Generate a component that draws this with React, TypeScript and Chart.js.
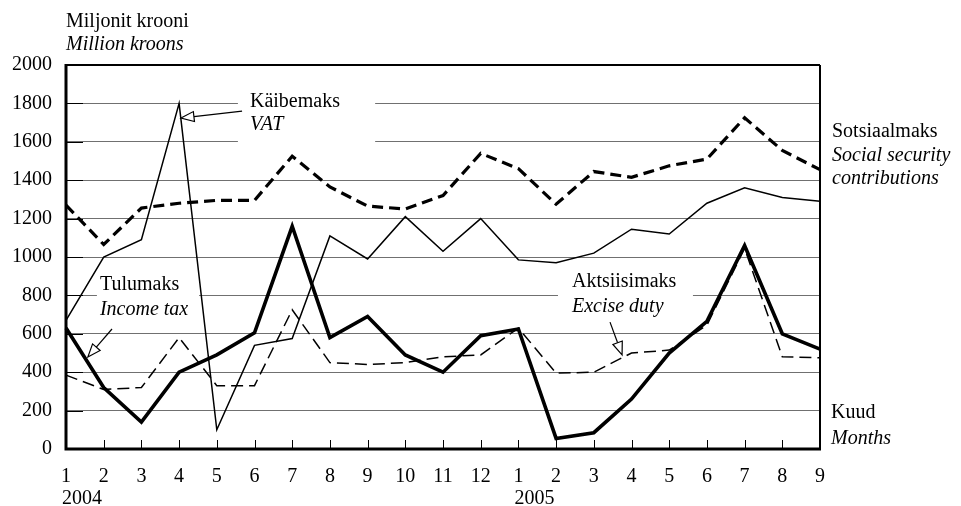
import React, { useEffect, useRef } from "react";
import { Chart, registerables } from "chart.js";

Chart.register(...registerables);

// ---- Data ----
const monthLabels = ["1","2","3","4","5","6","7","8","9","10","11","12","1","2","3","4","5","6","7","8","9"];
const yearLabels = ["2004", "2005"];
const yearIndexes = [0, 12];

const vat = [670, 1000, 1090, 1800, 100, 540, 575, 1110, 990, 1210, 1030, 1200, 985, 970, 1020, 1145, 1120, 1280, 1360, 1310, 1290];
const social = [1270, 1065, 1255, 1280, 1295, 1295, 1525, 1365, 1265, 1250, 1320, 1540, 1460, 1275, 1445, 1415, 1475, 1510, 1725, 1555, 1455];
const income = [630, 320, 140, 400, 490, 605, 1160, 580, 690, 490, 400, 590, 625, 55, 85, 260, 500, 665, 1060, 600, 520];
const excise = [385, 310, 320, 580, 330, 330, 725, 450, 440, 450, 480, 490, 630, 395, 400, 500, 515, 645, 1045, 480, 475];

const yMin = 0;
const yMax = 2000;
const yStep = 200;

const FONT = '"Liberation Serif", "Times New Roman", serif';

// annotation labels: [index, value] anchors in data space
const vatLabel = { et: "Käibemaks", en: "VAT", i: 4.88, v1: 1807, v2: 1688, box: [4.56, 8.2, 1859, 1578], tail: [4.67, 1760], tip: [3.05, 1724] };
const incomeLabel = { et: "Tulumaks", en: "Income tax", i: 0.9, v1: 854, v2: 724, box: [0.82, 3.53, 922, 682], tail: [1.22, 625], tip: [0.58, 479] };
const exciseLabel = { et: "Aktsiisimaks", en: "Excise duty", i: 13.42, v1: 870, v2: 740, box: [13.05, 16.63, 922, 682], tail: [14.43, 661], tip: [14.75, 490] };

function drawArrow(ctx: CanvasRenderingContext2D, x1: number, y1: number, x2: number, y2: number) {
  const dx = x2 - x1, dy = y2 - y1;
  const len = Math.sqrt(dx * dx + dy * dy);
  const ux = dx / len, uy = dy / len;
  const hl = 13, hw = 5;
  const bx = x2 - ux * hl, by = y2 - uy * hl;
  ctx.save();
  ctx.strokeStyle = "#000";
  ctx.lineWidth = 1.2;
  ctx.setLineDash([]);
  ctx.beginPath();
  ctx.moveTo(x1, y1);
  ctx.lineTo(bx, by);
  ctx.stroke();
  ctx.beginPath();
  ctx.moveTo(x2, y2);
  ctx.lineTo(bx - uy * hw, by + ux * hw);
  ctx.lineTo(bx + uy * hw, by - ux * hw);
  ctx.closePath();
  ctx.fillStyle = "#fff";
  ctx.fill();
  ctx.stroke();
  ctx.restore();
}

const decorPlugin = {
  id: "decor",
  beforeDatasetsDraw(chart: any) {
    const { ctx, chartArea, scales } = chart;
    const xs = scales.x, ys = scales.y;
    ctx.save();
    // white boxes breaking grid lines behind labels
    ctx.fillStyle = "#fff";
    [vatLabel, incomeLabel, exciseLabel].forEach((l) => {
      const x1 = xs.getPixelForValue(l.box[0]);
      const x2 = xs.getPixelForValue(l.box[1]);
      const y1 = ys.getPixelForValue(l.box[2]);
      const y2 = ys.getPixelForValue(l.box[3]);
      ctx.fillRect(x1, y1, x2 - x1, y2 - y1);
    });
    // inward ticks
    ctx.strokeStyle = "#000";
    ctx.lineWidth = 1;
    for (let v = yMin + yStep; v < yMax; v += yStep) {
      const y = Math.round(ys.getPixelForValue(v)) + 0.5;
      ctx.beginPath();
      ctx.moveTo(chartArea.left, y);
      ctx.lineTo(chartArea.left + 17, y);
      ctx.stroke();
    }
    for (let i = 1; i < monthLabels.length - 1; i++) {
      const x = Math.round(xs.getPixelForValue(i)) + 0.5;
      ctx.beginPath();
      ctx.moveTo(x, chartArea.bottom);
      ctx.lineTo(x, chartArea.bottom - 9);
      ctx.stroke();
    }
    // label texts
    ctx.fillStyle = "#000";
    ctx.textAlign = "left";
    ctx.textBaseline = "middle";
    [vatLabel, incomeLabel, exciseLabel].forEach((l) => {
      const x = xs.getPixelForValue(l.i);
      ctx.font = `20px ${FONT}`;
      ctx.fillText(l.et, x, ys.getPixelForValue(l.v1));
      ctx.font = `italic 20px ${FONT}`;
      ctx.fillText(l.en, x, ys.getPixelForValue(l.v2));
    });
    ctx.restore();
  },
  afterDatasetsDraw(chart: any) {
    const { ctx, chartArea, scales } = chart;
    const xs = scales.x, ys = scales.y;
    [vatLabel, incomeLabel, exciseLabel].forEach((l) => {
      drawArrow(
        ctx,
        xs.getPixelForValue(l.tail[0]), ys.getPixelForValue(l.tail[1]),
        xs.getPixelForValue(l.tip[0]), ys.getPixelForValue(l.tip[1])
      );
    });
    ctx.save();
    ctx.strokeStyle = "#000";
    ctx.setLineDash([]);
    const { left, right, top, bottom } = chartArea;
    ctx.lineWidth = 2;
    ctx.beginPath();
    ctx.moveTo(left, top);
    ctx.lineTo(right, top);
    ctx.moveTo(right, top);
    ctx.lineTo(right, bottom);
    ctx.stroke();
    ctx.lineWidth = 3;
    ctx.beginPath();
    ctx.moveTo(left, top - 1);
    ctx.lineTo(left, bottom + 1.5);
    ctx.moveTo(left - 1.5, bottom);
    ctx.lineTo(right + 1, bottom);
    ctx.stroke();
    ctx.restore();
  },
  afterDraw(chart: any) {
    const { ctx, chartArea, scales } = chart;
    const xs = scales.x;
    ctx.save();
    ctx.fillStyle = "#000";
    ctx.textAlign = "left";
    ctx.textBaseline = "middle";
    // year labels
    ctx.font = `20px ${FONT}`;
    yearIndexes.forEach((idx, k) => {
      ctx.fillText(yearLabels[k], xs.getPixelForValue(idx) - 4, chartArea.bottom + 50);
    });
    // axis titles
    ctx.fillText("Miljonit krooni", chartArea.left, 22);
    ctx.font = `italic 20px ${FONT}`;
    ctx.fillText("Million kroons", chartArea.left, 45);
    const rx = chartArea.right + 12;
    ctx.font = `20px ${FONT}`;
    ctx.fillText("Sotsiaalmaks", rx, 132);
    ctx.font = `italic 20px ${FONT}`;
    ctx.fillText("Social security", rx, 156);
    ctx.fillText("contributions", rx, 179);
    ctx.font = `20px ${FONT}`;
    ctx.fillText("Kuud", rx - 1, 413);
    ctx.font = `italic 20px ${FONT}`;
    ctx.fillText("Months", rx - 1, 439);
    ctx.restore();
  },
};

export default function App() {
  const canvasRef = useRef<HTMLCanvasElement | null>(null);

  useEffect(() => {
    if (!canvasRef.current) return;
    const chart = new Chart(canvasRef.current, {
      type: "line",
      data: {
        labels: monthLabels,
        datasets: [
          { label: "Sotsiaalmaks", data: social, borderColor: "#000", borderWidth: 3.2, borderDash: [11, 6], pointRadius: 0, tension: 0, fill: false },
          { label: "Käibemaks", data: vat, borderColor: "#000", borderWidth: 1.5, pointRadius: 0, tension: 0, fill: false },
          { label: "Aktsiisimaks", data: excise, borderColor: "#000", borderWidth: 1.5, borderDash: [12, 6], pointRadius: 0, tension: 0, fill: false },
          { label: "Tulumaks", data: income, borderColor: "#000", borderWidth: 3.6, pointRadius: 0, tension: 0, fill: false },
        ],
      },
      options: {
        responsive: false,
        animation: false,
        layout: { padding: { left: 0, top: 65, right: 141, bottom: 0 } },
        plugins: { legend: { display: false }, tooltip: { enabled: false }, title: { display: false } },
        scales: {
          x: {
            offset: false,
            grid: { display: false, drawTicks: false },
            border: { display: false },
            ticks: { autoSkip: false, maxRotation: 0, color: "#000", font: { family: FONT, size: 20 }, padding: 16 },
            afterFit: (s: any) => { s.height = 57; },
          },
          y: {
            min: yMin,
            max: yMax,
            grid: { color: "#707070", lineWidth: 1, drawTicks: false },
            border: { display: false },
            ticks: { stepSize: yStep, color: "#000", font: { family: FONT, size: 20 }, padding: 14, callback: (v: any) => String(v) },
            afterFit: (s: any) => { s.width = 66; },
          },
        },
      },
      plugins: [decorPlugin],
    });
    return () => chart.destroy();
  }, []);

  return (
    <div style={{ position: "absolute", left: 0, top: 0, width: 961, height: 506, background: "#fff" }}>
      <canvas ref={canvasRef} width={961} height={506} style={{ display: "block" }} />
    </div>
  );
}
